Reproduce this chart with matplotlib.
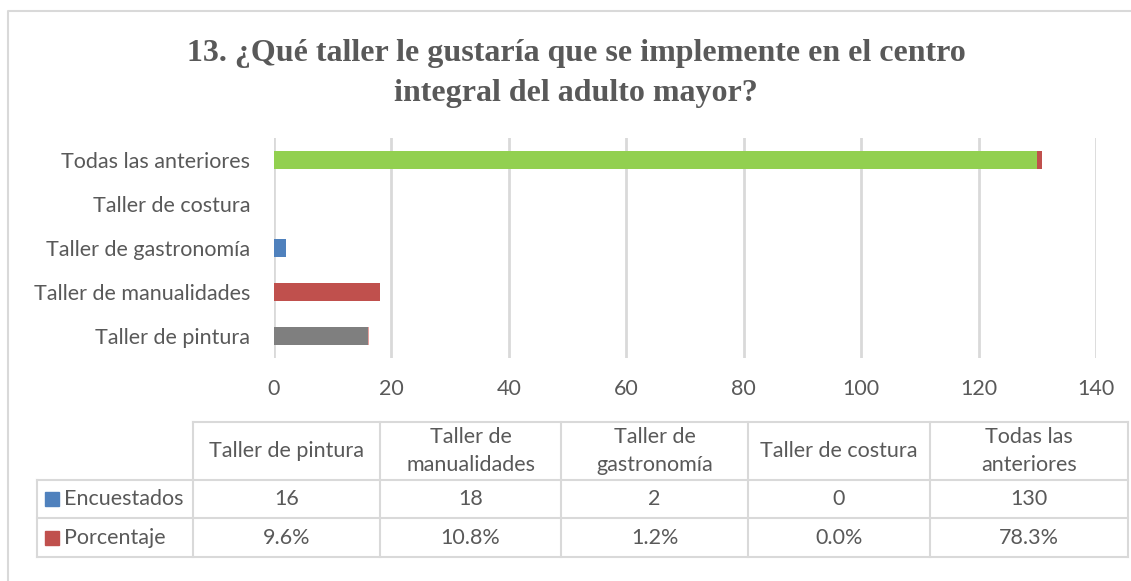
import matplotlib.pyplot as plt
import numpy as np

categorias = ["Taller de pintura", "Taller de manualidades", "Taller de gastronomía",
              "Taller de costura", "Todas las anteriores"]
cabeceras = ["Taller de pintura", "Taller de\nmanualidades", "Taller de\ngastronomía",
             "Taller de costura", "Todas las\nanteriores"]
encuestados = [16, 18, 2, 0, 130]
porcentaje = [0.096, 0.108, 0.012, 0.0, 0.783]
series = ["Encuestados", "Porcentaje"]

colores_barra = ["#7f7f7f", "#c0504d", "#4f81bd", "#9bbb59", "#92d050"]
colores_pct = ["#e8a09d", "#e8a09d", "#1f4e79", "#c0504d", "#c0504d"]
colores_serie = ["#4f81bd", "#c0504d"]

texto = "#595959"
gris = "#d9d9d9"
plt.rcParams["font.family"] = ["Lato", "DejaVu Sans"]

W, H = 1131, 581
fig = plt.figure(figsize=(W / 100, H / 100), dpi=100)

# marco exterior
bg = fig.add_axes([0, 0, 1, 1])
bg.set_xlim(0, W)
bg.set_ylim(H, 0)
bg.axis("off")
bg.plot([8, 8, W + 5], [H + 5, 11, 11], color=gris, lw=1.5)

fig.text(576 / W, 1 - 53 / H, "13. ¿Qué taller le gustaría que se implemente en el centro",
         ha="center", va="center", fontsize=23, fontweight="bold",
         family="Liberation Serif", color=texto)
fig.text(576 / W, 1 - 93 / H, "integral del adulto mayor?",
         ha="center", va="center", fontsize=23, fontweight="bold",
         family="Liberation Serif", color=texto)

ax = fig.add_axes([274 / W, 1 - 358 / H, (1096 - 274) / W, (358 - 138) / H])
y = np.arange(len(categorias))
ax.barh(y, encuestados, height=0.4, color=colores_barra, zorder=3)
ax.barh(y, porcentaje, left=encuestados, height=0.4, color=colores_pct, zorder=3)
ax.set_xlim(0, 140)
ax.set_ylim(-0.5, 4.5)
ax.set_xticks(np.arange(0, 141, 20))
ax.set_yticks(y)
ax.set_yticklabels(categorias)
ax.grid(axis="x", color=gris, lw=2, zorder=0)
for s in ax.spines.values():
    s.set_visible(False)
ax.tick_params(length=0, labelsize=15.5, colors=texto)
ax.tick_params(axis="y", pad=17)
ax.tick_params(axis="x", pad=15)

# tabla de datos
cols = [193, 380, 561, 748, 930, 1128]
rows = [422, 480, 518, 557]
lk = dict(color=gris, lw=1.5)
bg.plot([cols[0], cols[-1]], [rows[0], rows[0]], **lk)
for r in rows[1:]:
    bg.plot([37, cols[-1]], [r, r], **lk)
for c in cols:
    bg.plot([c, c], [rows[0], rows[-1]], **lk)
bg.plot([37, 37], [rows[1], rows[-1]], **lk)

fs = 15.5
for i, cab in enumerate(cabeceras):
    xc = (cols[i] + cols[i + 1]) / 2
    bg.text(xc, (rows[0] + rows[1]) / 2, cab, ha="center", va="center",
            fontsize=fs, color=texto, linespacing=1.45)
    bg.text(xc, (rows[1] + rows[2]) / 2, str(encuestados[i]), ha="center",
            va="center", fontsize=fs, color=texto)
    bg.text(xc, (rows[2] + rows[3]) / 2, f"{porcentaje[i] * 100:.1f}%", ha="center",
            va="center", fontsize=fs, color=texto)

for j, nombre in enumerate(series):
    yc = (rows[j + 1] + rows[j + 2]) / 2
    bg.add_patch(plt.Rectangle((45, yc - 7), 14, 14, color=colores_serie[j]))
    bg.text(64, yc, nombre, ha="left", va="center", fontsize=fs, color=texto)

fig.savefig("out.png", dpi=100)
